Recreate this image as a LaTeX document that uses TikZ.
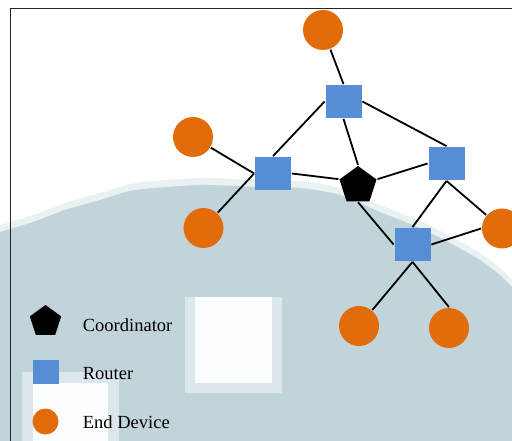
\documentclass[tikz,border=0pt]{standalone}
\usepackage{fontspec}
\setmainfont{Liberation Serif}
\usetikzlibrary{shapes.geometric}
\definecolor{orng}{HTML}{E36C0A}
\definecolor{blu}{HTML}{558ED5}
\definecolor{land}{HTML}{C1D4D9}
\definecolor{shore}{HTML}{DCE7EB}
\definecolor{pale}{HTML}{FAFEFF}
\begin{document}
\begin{tikzpicture}[x=1pt, y=-1pt, node distance={50pt}, line width=1.8pt,
  router/.style = {fill=blu, minimum width=36pt, minimum height=33pt, inner sep=0pt},
  device/.style = {fill=orng, circle, minimum size=40pt, inner sep=0pt},
  coordinator/.style = {fill=black, regular polygon, regular polygon sides=5, minimum size=39pt, inner sep=0pt},
  lbl/.style = {anchor=base west, inner sep=0pt, font=\fontsize{18.5}{21}\selectfont}]
\useasboundingbox (0,0) rectangle (512,441);
\clip (0,0) rectangle (512,441);
% map underlay
\fill[shore!60!white] (0,441) -- plot[smooth, tension=0.4] coordinates {(0,225) (33,215) (65,203) (100,193) (135,183) (200,178) (256,180) (300,181) (340,188) (380,205) (420,221) (450,236) (480,253) (500,268) (512,280)} -- (512,441) -- cycle;
\fill[land] (0,441) -- plot[smooth, tension=0.4] coordinates {(0,232) (33,222) (65,210) (100,200) (135,190) (200,185) (256,187) (300,188) (340,195) (380,212) (420,228) (450,243) (480,260) (500,275) (512,287)} -- (512,441) -- cycle;
\fill[shore] (185,297) rectangle (282,393);
\fill[pale] (195,297) rectangle (272,383);
\fill[shore] (22,372) rectangle (119,441);
\fill[pale] (33,383) rectangle (108,441);
\draw[black!85, line width=1.6pt] (10.5,441) -- (10.5,8.5) -- (512,8.5);
% network
\node[device] (1) at (323,30) {};
\node[router] (2) at (343.5,101.5) {};
\node[device] (3) at (193,137) {};
\node[router] (4) at (273,173.5) {};
\node[device] (5) at (203.5,228) {};
\node[coordinator] (6) at (358,185.5) {};
\node[router] (7) at (446.5,163.5) {};
\node[router] (8) at (412.5,244.5) {};
\node[device] (9) at (502,228.5) {};
\node[device] (10) at (359,326) {};
\node[device] (11) at (449,328) {};
\draw (1) -- (2.north);
\draw (2.west) -- (4.north);
\draw (2.south) -- (6.corner 1);
\draw (2.east) -- (7.north);
\draw (3) -- (4.west);
\draw (5) -- (4.west);
\draw (4.east) -- (6.corner 2);
\draw (6.corner 5) -- (7.west);
\draw (6.south) -- (8.west);
\draw (7.south) -- (8.north);
\draw (7.south) -- (9);
\draw (8.east) -- (9.west);
\draw (8.south) -- (10);
\draw (8.south) -- (11.north);
% legend
\node[coordinator, minimum size=33pt] (l1) at (45.5,321.5) {};
\node[router, minimum width=26pt, minimum height=24pt] (l2) [below of=l1] {};
\node[device, minimum size=26pt] (l3) [below of=l2] {};
\node[lbl] (t1) at (82,331) {Coordinator};
\node[lbl] (t2) at (82,379) {Router};
\node[lbl] (t3) at (82,428) {End Device};
\end{tikzpicture}
\end{document}
